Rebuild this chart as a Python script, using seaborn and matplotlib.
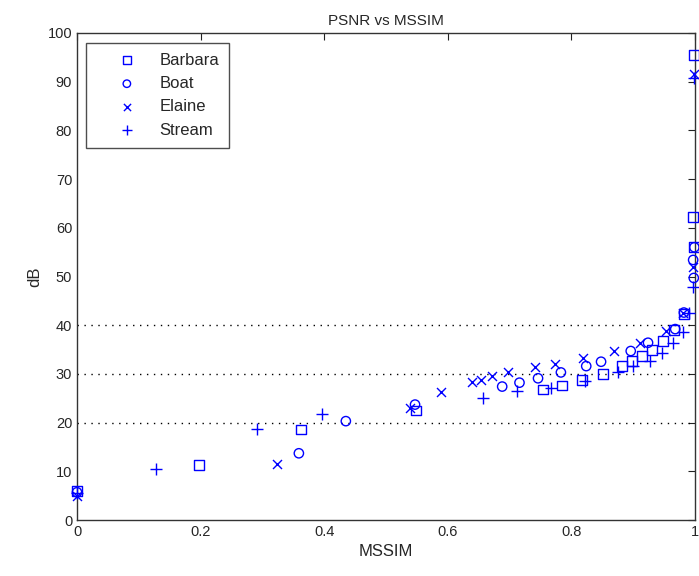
import numpy as np
import pandas as pd
import seaborn as sns
import matplotlib.pyplot as plt

sns.set_style('white')
plt.rcParams['font.family'] = ['Liberation Sans', 'DejaVu Sans']

# values (MSSIM, dB)
barbara_x = [0.0, 0.197, 0.362, 0.549, 0.754, 0.785, 0.817, 0.851, 0.882, 0.898, 0.914,
             0.930, 0.948, 0.966, 0.982, 0.997, 0.998, 0.999]
barbara_y = [6.0, 11.3, 18.6, 22.5, 26.8, 27.6, 28.8, 30.0, 31.6, 32.6, 33.7,
             34.9, 36.8, 39.0, 42.3, 62.3, 56.0, 95.4]

boat_x = [0.0, 0.359, 0.435, 0.547, 0.688, 0.716, 0.746, 0.783, 0.824, 0.848, 0.896,
          0.924, 0.968, 0.982, 0.997, 0.998, 0.999]
boat_y = [5.7, 13.7, 20.3, 23.7, 27.4, 28.2, 29.1, 30.3, 31.6, 32.5, 34.7,
          36.4, 39.2, 42.6, 53.4, 49.7, 56.0]

elaine_x = [0.0, 0.324, 0.539, 0.589, 0.639, 0.654, 0.671, 0.697, 0.741, 0.773, 0.819,
            0.869, 0.911, 0.953, 0.981, 0.997, 0.998]
elaine_y = [5.0, 11.6, 22.9, 26.2, 28.4, 28.8, 29.5, 30.4, 31.4, 32.1, 33.3,
            34.6, 36.3, 38.8, 42.5, 52.0, 91.6]

stream_x = [0.0, 0.128, 0.291, 0.396, 0.657, 0.712, 0.767, 0.822, 0.875, 0.900, 0.927,
            0.946, 0.964, 0.980, 0.990, 0.997, 0.999]
stream_y = [5.5, 10.5, 18.7, 21.7, 25.1, 26.4, 27.2, 28.6, 30.4, 31.6, 32.7,
            34.3, 36.3, 38.7, 42.5, 47.9, 90.8]

series = [('Barbara', barbara_x, barbara_y, 's'),
          ('Boat', boat_x, boat_y, 'o'),
          ('Elaine', elaine_x, elaine_y, 'x'),
          ('Stream', stream_x, stream_y, '+')]

fig = plt.figure(figsize=(6.99, 5.76), dpi=100)
ax = fig.add_axes([77 / 699, 56 / 576, 618 / 699, 487 / 576])

# reference lines at 20, 30, 40 dB
for level in [20, 30, 40]:
    ax.axhline(level, color='black', linestyle=(0, (1, 4)), linewidth=1, zorder=1)

for name, xs, ys, m in series:
    df = pd.DataFrame({'MSSIM': xs, 'dB': ys})
    if m in ['s', 'o']:
        sns.scatterplot(data=df, x='MSSIM', y='dB', marker=m, s=50 if m == 's' else 45,
                        facecolor='none', edgecolor='#0000ff', linewidth=1, label=name,
                        ax=ax, zorder=3, clip_on=False)
    else:
        sns.scatterplot(data=df, x='MSSIM', y='dB', marker=m, s=42 if m == 'x' else 70,
                        color='#0000ff', linewidth=1, label=name, ax=ax, zorder=3,
                        clip_on=False)

ax.set_xlim(0, 1)
ax.set_ylim(0, 100)
ax.set_xticks(np.arange(0, 1.01, 0.2))
ax.set_xticklabels(['0', '0.2', '0.4', '0.6', '0.8', '1'])
ax.set_yticks(np.arange(0, 101, 10))
ax.tick_params(direction='in', top=True, right=True, length=5, labelsize=10.5, color='#222222')
for sp in ax.spines.values():
    sp.set_color('#333333')
    sp.set_linewidth(1)

ax.set_title('PSNR vs MSSIM', fontsize=11)
ax.set_xlabel('MSSIM', fontsize=12)
ax.set_ylabel('dB', fontsize=12)

leg = ax.legend(loc='upper left', fontsize=12, frameon=True, fancybox=False,
                edgecolor='#222222', borderpad=0.6, handletextpad=0.1, labelspacing=0.5,
                handlelength=3.7, markerscale=0.8, bbox_to_anchor=(0.0146, 0.98),
                borderaxespad=0)
leg.get_frame().set_linewidth(1)

fig.savefig('out.png', dpi=100)
